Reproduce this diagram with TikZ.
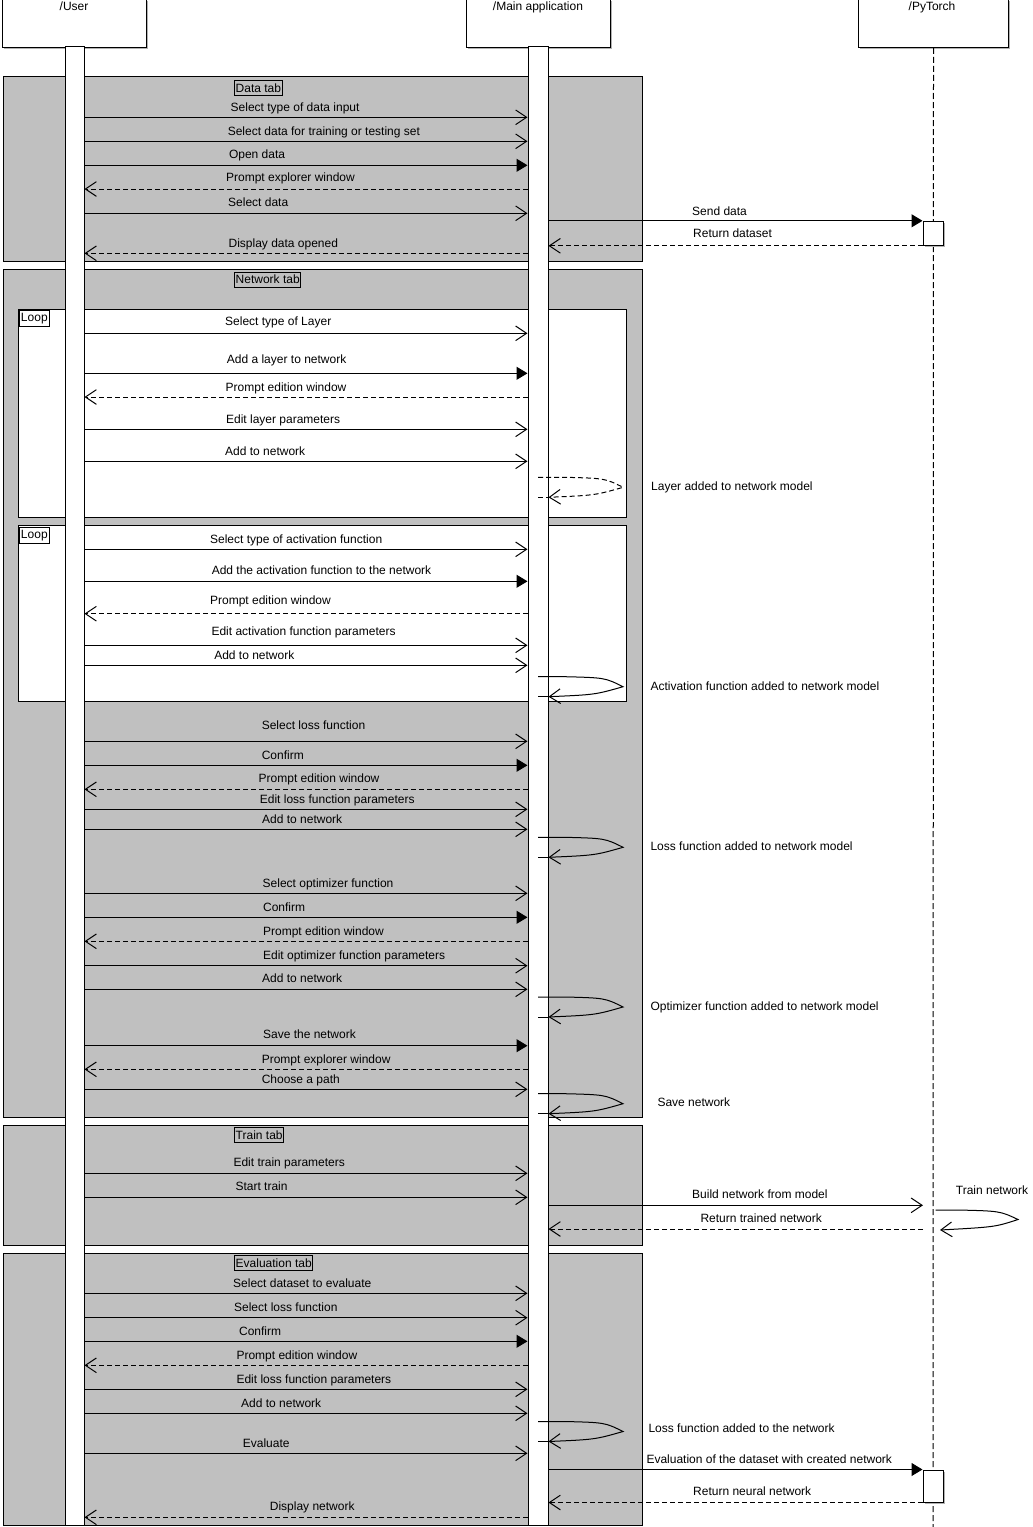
\documentclass[tikz,border=0pt]{standalone}
\usepackage{fontspec}
\setmainfont{Liberation Sans}
\usetikzlibrary{arrows.meta,shadows}
\definecolor{fraggray}{HTML}{C0C0C0}
\newcommand\umsg[6]{%
  \draw[#1] (ubar.east |- 0,#2) -- (mbar.west |- 0,#2);
  \node[lbl] (#3) at (#4,#5+3.5) {#6};}
\newcommand\rmsg[5]{%
  \draw[ret] (mbar.west |- 0,#1) -- (ubar.east |- 0,#1);
  \node[lbl] (#2) at (#3,#4+3.5) {#5};}
\newcommand\selfmsg[6]{%
  \draw[#1, -{Straight Barb[length=8.25pt,width=11pt]}] (mbar.center |- 0,#2) -- (565,#2)
     .. controls (605,#2+1) .. (623,#2+10)
     .. controls (595,#2+18) .. (mbar.east |- 0,#2+20);
  \draw[#1] (mbar.center |- 0,#2+20) -- (mbar.east |- 0,#2+20);
  \node[lbl] (#3) at (#4,#5+3.5) {#6};}
\begin{document}
\begin{tikzpicture}[x=0.75pt,y=-0.75pt,line width=0.75pt,
  every node/.style={font=\fontsize{9}{11}\selectfont},
  frag/.style={draw=black,fill=fraggray},
  loopbox/.style={draw=black,fill=white},
  tagbox/.style={draw=black,inner xsep=0.9pt,inner ysep=0pt,anchor=north west,minimum height=11.25pt},
  head/.style={draw=black,fill=white,inner sep=0pt,anchor=north west,
    drop shadow={shadow xshift=1.2pt,shadow yshift=-1.2pt,fill=black!30,opacity=1}},
  headlbl/.style={anchor=base,inner sep=0pt},
  actbar/.style={draw=black,fill=white,inner sep=0pt},
  pbox/.style={draw=black,fill=white,inner sep=0pt,
    drop shadow={shadow xshift=1.2pt,shadow yshift=-1.2pt,fill=black!30,opacity=1}},
  lbl/.style={anchor=base west,inner sep=0pt},
  lifeline/.style={dash pattern=on 4.5pt off 2.25pt},
  selfline/.style={},
  selfdash/.style={dash pattern=on 3.75pt off 2.25pt},
  call/.style={-{Straight Barb[length=8.25pt,width=11pt]}},
  sync/.style={-{Triangle[length=8.25pt,width=9.75pt]}},
  ret/.style={dash pattern=on 3.75pt off 2.25pt,-{Straight Barb[length=8.25pt,width=11pt]}}
]
\useasboundingbox (0,0) rectangle (1032,1527);
\fill[white] (0,0) rectangle (1032,1527);

% header boxes
\node[head,minimum width=108pt,minimum height=36pt] (user) at (2,-1) {};
\node[head,minimum width=108pt,minimum height=36pt] (main) at (466,-1) {};
\node[head,minimum width=112.5pt,minimum height=36pt] (pyt) at (858,-1) {};
\node[headlbl] (userlbl) at (74,10.5) {/User};
\node[headlbl] (mainlbl) at (538,10.5) {/Main application};
\node[headlbl] (pytlbl) at (932,10.5) {/PyTorch};

% PyTorch lifeline
\coordinate (ptop) at (pyt.south);
\coordinate (pbot) at (933,1527);
\coordinate (pin) at (923,47);
\draw[lifeline] (ptop) -- (pbot);

% combined fragments
\draw[frag] (3,77) rectangle (642,261);
\draw[frag] (3,269.5) rectangle (642,1117.3);
\draw[frag] (3,1125.3) rectangle (642,1245.7);
\draw[frag] (3,1253.3) rectangle (642,1525.3);
\draw[loopbox] (18.5,309.3) rectangle (626.5,517.3);
\draw[loopbox] (18.5,525.3) rectangle (626.5,701);

\node[tagbox,fill=fraggray] (tdata) at (234,80) {Data tab};
\node[tagbox,fill=fraggray] (tnet) at (234,271.5) {Network tab};
\node[tagbox,fill=fraggray] (ttrain) at (234,1127) {Train tab};
\node[tagbox,fill=fraggray] (teval) at (234,1255) {Evaluation tab};
\node[tagbox,fill=white,inner xsep=1.5pt,minimum height=12pt] (tloopa) at (18.5,310) {Loop};
\node[tagbox,fill=white,inner xsep=1.5pt,minimum height=12pt] (tloopb) at (18.5,526.7) {Loop};

% activation bars
\node[actbar,minimum width=14.25pt,minimum height=1108.5pt] (ubar) at (74.5,786) {};
\node[actbar,minimum width=15pt,minimum height=1108.5pt] (mbar) at (538,786) {};
\node[pbox,minimum width=15pt,minimum height=18pt] (pact1) at (933,233.3) {};
\node[pbox,minimum width=15pt,minimum height=24pt] (pact2) at (933,1486) {};

% Data tab
\umsg{call}{117.3}{m1}{230.2}{107.7}{Select type of data input}
\umsg{call}{141.3}{m2}{227.3}{132}{Select data for training or testing set}
\umsg{sync}{165.3}{m3}{228.5}{155}{Open data}
\rmsg{189}{m4}{225.6}{177.7}{Prompt explorer window}
\umsg{call}{213.3}{m5}{227.7}{203.3}{Select data}
\draw[sync] (mbar.east |- pact1.north) -- (pact1.north west);
\node[lbl] (m6) at (691.7,211.7+3.5) {Send data};
\draw[ret] (pact1.south west) -- (mbar.east |- pact1.south);
\node[lbl] (m7) at (692.7,234.3+3.5) {Return dataset};
\rmsg{253.3}{m8}{228.1}{243.7}{Display data opened}

% Network tab, loop 1
\umsg{call}{333.3}{n1}{224.7}{321.7}{Select type of Layer}
\umsg{sync}{373.3}{n2}{226.4}{360.3}{Add a layer to network}
\rmsg{397}{n3}{225.2}{387.7}{Prompt edition window}
\umsg{call}{429.3}{n4}{225.6}{419.7}{Edit layer parameters}
\umsg{call}{461.3}{n5}{224.7}{451.7}{Add to network}
\selfmsg{selfdash}{477.3}{n6}{650.7}{487.3}{Layer added to network model}

% loop 2
\umsg{call}{549.3}{a1}{209.6}{540}{Select type of activation function}
\umsg{sync}{581.3}{a2}{211.3}{571}{Add the activation function to the network}
\rmsg{613.7}{a3}{209.6}{601.3}{Prompt edition window}
\umsg{call}{645.3}{a4}{211}{631.7}{Edit activation function parameters}
\umsg{call}{665.3}{a5}{213.8}{656}{Add to network}
\selfmsg{selfline}{676.7}{a6}{650}{687}{Activation function added to network model}

% loss / optimizer / save
\umsg{call}{741.3}{s1}{261.3}{725.7}{Select loss function}
\umsg{sync}{765.3}{s2}{261.3}{755.7}{Confirm}
\rmsg{789.3}{s3}{258.2}{779}{Prompt edition window}
\umsg{call}{809.3}{s4}{259.4}{800}{Edit loss function parameters}
\umsg{call}{829.3}{s5}{261.7}{819.7}{Add to network}
\selfmsg{selfline}{837.3}{s6}{650}{847}{Loss function added to network model}
\umsg{call}{893.3}{o1}{262.2}{883.7}{Select optimizer function}
\umsg{sync}{917.3}{o2}{262.6}{907.7}{Confirm}
\rmsg{941.3}{o3}{262.6}{931.7}{Prompt edition window}
\umsg{call}{965.7}{o4}{262.6}{955.7}{Edit optimizer function parameters}
\umsg{call}{989.3}{o5}{261.7}{979.3}{Add to network}
\selfmsg{selfline}{997}{o6}{650}{1007}{Optimizer function added to network model}
\umsg{sync}{1045.7}{v1}{262.6}{1035.3}{Save the network}
\rmsg{1069.3}{v2}{261.3}{1059.7}{Prompt explorer window}
\umsg{call}{1089.3}{v3}{261.3}{1079.7}{Choose a path}
\selfmsg{selfline}{1093.7}{v4}{657}{1103}{Save network}

% Train tab
\umsg{call}{1173.3}{t1}{233}{1163}{Edit train parameters}
\umsg{call}{1197.3}{t2}{235}{1187}{Start train}
\draw[call] (mbar.east |- 0,1205.3) -- (pin |- 0,1205.3);
\node[lbl] (t3) at (691.7,1195.3+3.5) {Build network from model};
\draw[-{Straight Barb[length=8.25pt,width=11pt]}] (ptop |- 0,1210) ++(2,0) -- (958,1210)
   .. controls (1000,1211) .. (1018,1219.5)
   .. controls (995,1227) .. (940,1230);
\node[lbl] (t4) at (955.4,1191+3.5) {Train network};
\draw[ret] (pin |- 0,1229) -- (mbar.east |- 0,1229);
\node[lbl] (t5) at (700,1219+3.5) {Return trained network};

% Evaluation tab
\umsg{call}{1293.3}{e1}{232.7}{1283.7}{Select dataset to evaluate}
\umsg{call}{1317.7}{e2}{233.6}{1307.7}{Select loss function}
\umsg{sync}{1341.3}{e3}{238.6}{1331.7}{Confirm}
\rmsg{1365.3}{e4}{236}{1355.7}{Prompt edition window}
\umsg{call}{1389.3}{e5}{236}{1379.7}{Edit loss function parameters}
\umsg{call}{1413.3}{e6}{240.7}{1403.7}{Add to network}
\selfmsg{selfline}{1421.5}{e7}{648}{1428.6}{Loss function added to the network}
\umsg{call}{1453.3}{e8}{242.4}{1443.7}{Evaluate}
\draw[sync] (mbar.east |- pact2.north) -- (pact2.north west);
\node[lbl] (e9) at (646,1460.3+3.5) {Evaluation of the dataset with created network};
\draw[ret] (pact2.south west) -- (mbar.east |- pact2.south);
\node[lbl] (e10) at (692.7,1492.4+3.5) {Return neural network};
\rmsg{1517.3}{e11}{269.4}{1506.7}{Display network}
\end{tikzpicture}
\end{document}
